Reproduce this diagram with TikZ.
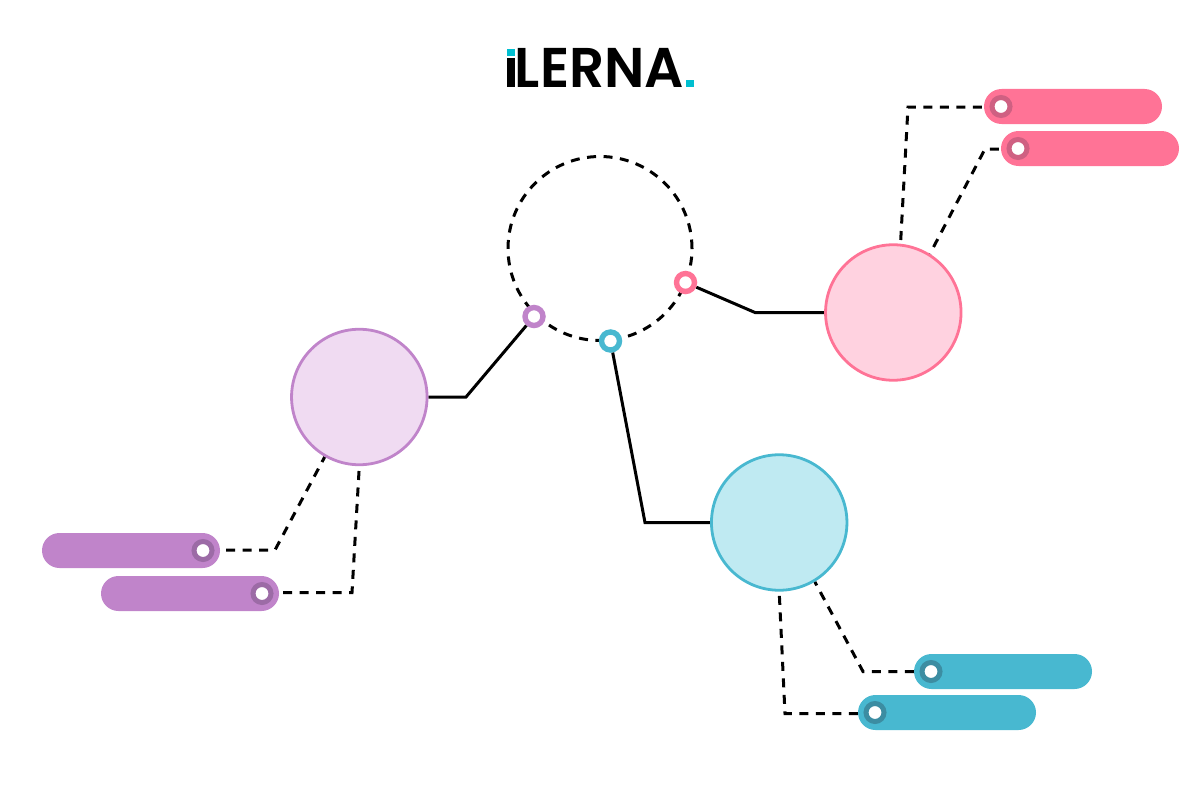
\documentclass[tikz,border=0pt]{standalone}
\usepackage{fontspec}
\setmainfont{Poppins}[UprightFont=* SemiBold]
\usetikzlibrary{backgrounds}
\definecolor{pinkc}{HTML}{FF7396}
\definecolor{pinkl}{HTML}{FFD2E0}
\definecolor{pinkd}{HTML}{CF6082}
\definecolor{purc}{HTML}{C084CA}
\definecolor{purl}{HTML}{F0DBF2}
\definecolor{purd}{HTML}{9C6BA6}
\definecolor{bluc}{HTML}{48B8D0}
\definecolor{blul}{HTML}{BFEAF2}
\definecolor{blud}{HTML}{3C8DA2}
\definecolor{logoc}{HTML}{00BFD0}
\tikzset{
  x=1pt,y=-1pt,
  bigc/.style={circle,draw=#1,line width=2.8pt,inner sep=0pt,minimum size=135.5pt},
  ring/.style={circle,draw=#1,fill=white,line width=5.4pt,inner sep=0pt,minimum size=18pt},
  bar/.style={rounded corners=17.5pt,fill=#1,inner sep=0pt,minimum width=178pt,minimum height=35pt},
  pin/.style={circle,draw=#1,fill=white,line width=5pt,inner sep=0pt,minimum size=18pt},
  solid link/.style={draw=black,line width=3pt,line join=miter},
  dash link/.style={draw=black,line width=3pt,dash pattern=on 9pt off 7.5pt},
  logo/.style={fill=#1,draw=none}
}
\begin{document}
\begin{tikzpicture}
\useasboundingbox (0,0) rectangle (1200,800);
% logo
\node[anchor=base west,inner sep=0pt,font=\fontsize{56}{56}\selectfont,text=black] (logotext) at (514.7,87.3) {\scalebox{0.98}[1]{LERNA}};
\fill[logo=black] (507,58) rectangle (514.5,87.3);
\fill[logo=logoc] (507,49.5) rectangle (514.5,56);
\fill[logo=logoc] (686,80.5) rectangle (693.5,87.5);
% hub
\node[circle,draw=black,line width=3pt,dash pattern=on 9pt off 7.5pt,inner sep=0pt,minimum size=184pt] (hub) at (600,248.5) {};
% rings
\node[ring=purc] (rp) at (534,316.5) {};
\node[ring=bluc] (rb) at (610.5,341) {};
\node[ring=pinkc] (rk) at (685.5,282.5) {};
% large circles
\node[bigc=purc,fill=purl] (cp) at (359.3,397) {};
\node[bigc=pinkc,fill=pinkl] (ck) at (893.3,312.5) {};
\node[bigc=bluc,fill=blul] (cb) at (779.2,522.5) {};
% bars
\node[bar=pinkc] (k1) at (1073,106.5) {};
\node[bar=pinkc] (k2) at (1090,148.5) {};
\node[bar=purc] (p1) at (131,550.5) {};
\node[bar=purc] (p2) at (190,593.5) {};
\node[bar=bluc] (b1) at (1003,671.5) {};
\node[bar=bluc] (b2) at (947,712.5) {};
% pins
\node[pin=pinkd] at (1001,106.5) {};
\node[pin=pinkd] at (1018,148.5) {};
\node[pin=purd] at (203,550.5) {};
\node[pin=purd] at (262,593.5) {};
\node[pin=blud] at (931,671.5) {};
\node[pin=blud] at (875,712.5) {};
% bends
\coordinate (ak) at (755,312.5);
\coordinate (ap) at (466,397);
\coordinate (ab) at (645,522.5);
\coordinate (k1b) at (908,107);
\coordinate (k2b) at (985,149);
\coordinate (p1b) at (275,550);
\coordinate (p2b) at (352,592.5);
\coordinate (b1b) at (863,671.5);
\coordinate (b2b) at (785,713.5);
\begin{scope}[on background layer]
\draw[solid link] (rk) -- (ak) -- (ck);
\draw[solid link] (cp) -- (ap) -- (rp);
\draw[solid link] (rb) -- (ab) -- (cb);
\draw[dash link] (k1.west) ++(-2,0.5) -- (k1b) -- (ck.84);
\draw[dash link] (k2.west) ++(-2,0.5) -- (k2b) -- (ck.58);
\draw[dash link] (p1.east) ++(6,-0.5) -- (p1b) -- (cp.240);
\draw[dash link] (p2.east) ++(4,-1) -- (p2b) -- (cp.south);
\draw[dash link] (b1.west) -- (b1b) -- (cb.301);
\draw[dash link] (b2.west) ++(0,1) -- (b2b) -- (cb.south);
\end{scope}
\end{tikzpicture}
\end{document}
